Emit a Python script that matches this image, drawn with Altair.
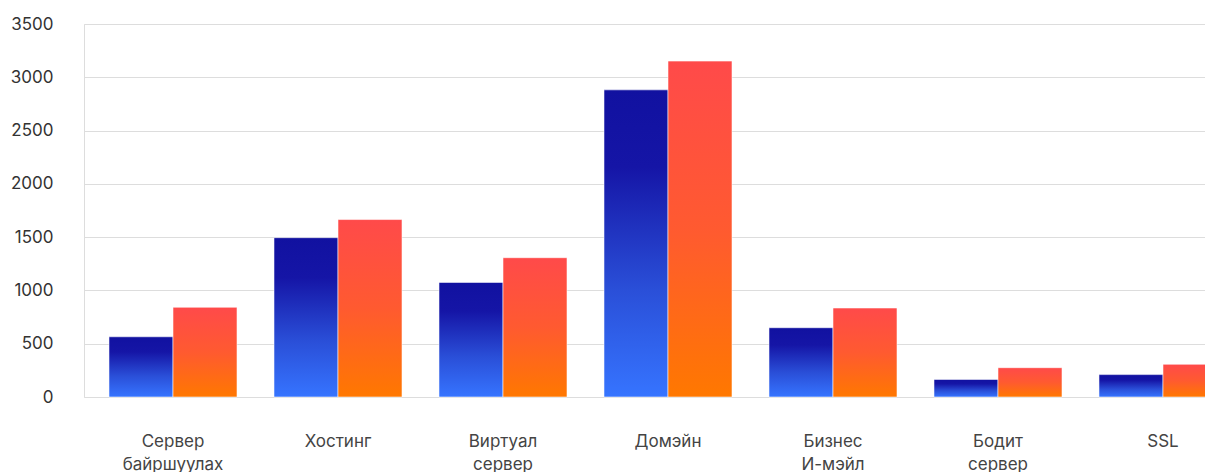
import altair as alt
import pandas as pd

categories = ["Сервер байршуулах", "Хостинг", "Виртуал сервер", "Домэйн",
              "Бизнес И-мэйл", "Бодит сервер", "SSL"]
series_a = [565, 1495, 1075, 2882, 650, 165, 210]
series_b = [842, 1665, 1307, 3152, 835, 275, 307]
y_ticks = [0, 500, 1000, 1500, 2000, 2500, 3000, 3500]

rows = []
for c, a, b in zip(categories, series_a, series_b):
    rows.append({"cat": c, "series": "A", "value": a})
    rows.append({"cat": c, "series": "B", "value": b})
df = pd.DataFrame(rows)

FONT = "Inter"

x_enc = alt.X("cat:N", sort=categories, title=None,
              scale=alt.Scale(paddingInner=0.2242, paddingOuter=0.1515, range=[0, 1168]),
              axis=alt.Axis(labelAngle=0, domain=False, ticks=False, tickSize=0,
                            labelPadding=36, labelFontSize=17, labelFont=FONT,
                            labelColor="#444444", labelLineHeight=23,
                            labelExpr="split(datum.label, ' ')", grid=False))
y_enc = alt.Y("value:Q", title=None,
              scale=alt.Scale(domain=[0, 3500], nice=False),
              axis=alt.Axis(values=y_ticks, format="d", domain=False, ticks=False, tickSize=0,
                            labelPadding=31, labelFontSize=17, labelFont=FONT,
                            labelColor="#333333", gridColor="#dddddd", gridWidth=1))
xo = alt.XOffset("series:N", scale=alt.Scale(domain=["A", "B"], paddingInner=0, paddingOuter=0))

blue = alt.Gradient(gradient="linear", x1=0, x2=0, y1=0, y2=1,
                    stops=[alt.GradientStop(color="#1111a0", offset=0),
                           alt.GradientStop(color="#1515a6", offset=0.25),
                           alt.GradientStop(color="#2a4fd8", offset=0.65),
                           alt.GradientStop(color="#3674ff", offset=1)])
red = alt.Gradient(gradient="linear", x1=0, x2=0, y1=0, y2=1,
                   stops=[alt.GradientStop(color="#ff4a4a", offset=0),
                          alt.GradientStop(color="#ff5a30", offset=0.5),
                          alt.GradientStop(color="#ff7800", offset=1)])

base = alt.Chart(df)
bars_a = base.transform_filter("datum.series == 'A'").mark_bar(
    color=blue, stroke="#ffffff", strokeOpacity=0.55, strokeWidth=1
).encode(x=x_enc, y=y_enc, xOffset=xo)
bars_b = base.transform_filter("datum.series == 'B'").mark_bar(
    color=red, stroke="#ffffff", strokeOpacity=0.55, strokeWidth=1
).encode(x=x_enc, y=y_enc, xOffset=xo)

chart = alt.layer(bars_a, bars_b).properties(
    width=1121, height=373,
    autosize=alt.AutoSizeParams(type="none"),
    padding={"left": 76, "top": 16, "right": 0, "bottom": 80},
).configure_view(stroke="transparent", strokeWidth=0).configure(background="white")

chart.save("out.html", embed_options={"renderer": "svg", "actions": False})
